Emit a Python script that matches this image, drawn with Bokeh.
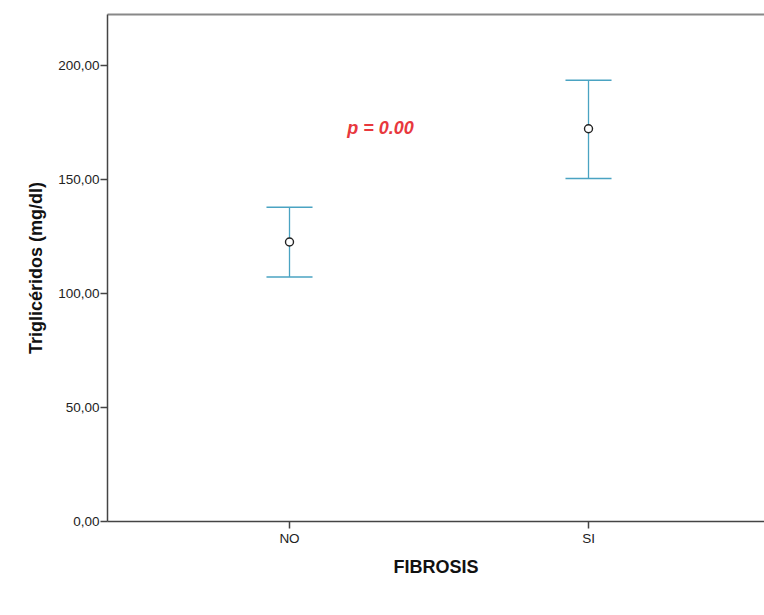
from bokeh.plotting import figure
from bokeh.models import Range1d, FixedTicker, LinearAxis, Label, ColumnDataSource
from bokeh.embed import file_html
from bokeh.resources import INLINE

categories = ["NO", "SI"]
cat_pos = [1, 2]
means = [122.6, 172.3]
lower = [107.3, 150.5]
upper = [137.8, 193.6]
y_ticks = [0, 50, 100, 150, 200]
y_tick_labels = ["0,00", "50,00", "100,00", "150,00", "200,00"]

FONT = "Liberation Sans"
BAR = "#4aa3c2"

src = ColumnDataSource(dict(x=cat_pos, m=means, lo=lower, hi=upper))

p = figure(width=764, height=615, output_backend="svg", toolbar_location=None,
           x_range=Range1d(0.3913, 2.5886), y_range=Range1d(0, 222.4),
           min_border_left=107, min_border_right=0, min_border_top=14, min_border_bottom=94,
           outline_line_color=None, background_fill_color="white", border_fill_color="white")
p.grid.visible = False

# y axis
ya = p.yaxis[0]
ya.ticker = FixedTicker(ticks=y_ticks)
ya.major_label_overrides = {t: l for t, l in zip(y_ticks, y_tick_labels)}
ya.axis_label = "Triglicéridos (mg/dl)"
ya.axis_label_text_font = FONT
ya.axis_label_text_font_style = "bold"
ya.axis_label_text_font_size = "18px"
ya.axis_label_text_color = "#111111"
ya.axis_label_standoff = 9
ya.major_label_text_font = FONT
ya.major_label_text_font_size = "13.5px"
ya.major_label_text_color = "#222222"
ya.major_label_standoff = 1
ya.major_tick_out = 7
ya.major_tick_in = 0
ya.minor_tick_out = 0
ya.minor_tick_in = 0
ya.axis_line_color = "#444444"
ya.axis_line_width = 1.5
ya.major_tick_line_color = "#444444"
ya.major_tick_line_width = 1.5

# x axis
xa = p.xaxis[0]
xa.ticker = FixedTicker(ticks=cat_pos)
xa.major_label_overrides = {c: n for c, n in zip(cat_pos, categories)}
xa.axis_label = "FIBROSIS"
xa.axis_label_text_font = FONT
xa.axis_label_text_font_style = "bold"
xa.axis_label_text_font_size = "18px"
xa.axis_label_text_color = "#111111"
xa.axis_label_standoff = 8
xa.major_label_text_font = FONT
xa.major_label_text_font_size = "13.5px"
xa.major_label_text_color = "#222222"
xa.major_label_standoff = 2
xa.major_tick_out = 7
xa.major_tick_in = 0
xa.minor_tick_out = 0
xa.minor_tick_in = 0
xa.axis_line_color = "#444444"
xa.axis_line_width = 1.5
xa.major_tick_line_color = "#444444"
xa.major_tick_line_width = 1.5

# top border as an unlabelled axis
top = LinearAxis(ticker=FixedTicker(ticks=[]), major_tick_out=0, major_tick_in=0,
                 minor_tick_out=0, minor_tick_in=0, major_label_text_font_size="0px",
                 axis_line_color="#888888", axis_line_width=2)
p.add_layout(top, "above")

# error bars
p.segment(x0="x", x1="x", y0="lo", y1="hi", source=src, line_color=BAR, line_width=1.3)
w = 0.077
src_caps = ColumnDataSource(dict(x0=[c - w for c in cat_pos], x1=[c + w for c in cat_pos], lo=lower, hi=upper))
p.segment(x0="x0", x1="x1", y0="lo", y1="lo", source=src_caps, line_color=BAR, line_width=1.5)
p.segment(x0="x0", x1="x1", y0="hi", y1="hi", source=src_caps, line_color=BAR, line_width=1.5)
p.scatter(x="x", y="m", source=src, marker="circle", size=8, fill_color="white",
          line_color="#222222", line_width=1.4)

p.add_layout(Label(x=1.304, y=172.7, text="p = 0.00", text_font=FONT, text_font_size="18px",
                   text_font_style="bold italic", text_color="#e8383d",
                   text_baseline="middle", text_align="center"))

open("out.html", "w").write(file_html(p, INLINE))
